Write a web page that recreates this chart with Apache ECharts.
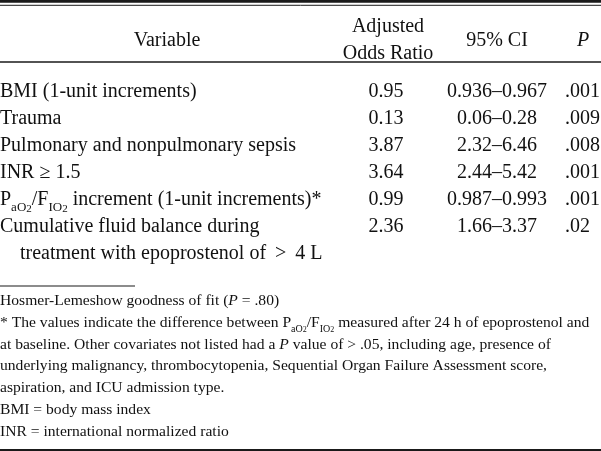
<!DOCTYPE html>
<html><head><meta charset="utf-8">
<script src="https://cdn.jsdelivr.net/npm/echarts@6/dist/echarts.min.js"></script>
<style>html,body{margin:0;padding:0;background:#fff}#c{width:601px;height:451px}</style>
</head><body><div id="c"></div>
<script>
// ---- data ----
const headers = ['Variable', 'Adjusted\nOdds Ratio', '95% CI', 'P'];
const variables = [
  'BMI (1-unit increments)',
  'Trauma',
  'Pulmonary and nonpulmonary sepsis',
  'INR \u2265 1.5',
  '{s|aO}{ss|2}/F{s|IO}{ss|2} increment (1-unit increments)*',
  'Cumulative fluid balance during'
];
const variablePrefix = ['', '', '', '', 'P', ''];
const variableContinuation = ['', '', '', '', '', 'treatment with epoprostenol of \u2009>\u2009 4 L'];
const oddsRatios = ['0.95', '0.13', '3.87', '3.64', '0.99', '2.36'];
const ciLow = ['0.936', '0.06', '2.32', '2.44', '0.987', '1.66'];
const ciHigh = ['0.967', '0.28', '6.46', '5.42', '0.993', '3.37'];
const pValues = ['.001', '.009', '.008', '.001', '.001', '.02'];
const footnotes = [
  'Hosmer-Lemeshow goodness of fit ({i|P} = .80)',
  '* The values indicate the difference between P{s|aO}{ss|2}/F{s|IO}{ss|2} measured after 24 h of epoprostenol and',
  'at baseline. Other covariates not listed had a {i|P} value of > .05, including age, presence of',
  'underlying malignancy, thrombocytopenia, Sequential Organ Failure Assessment score,',
  'aspiration, and ICU admission type.',
  'BMI = body mass index',
  'INR = international normalized ratio'
];

// ---- layout ----
const W = 601, H = 451;
const FONT = '"Liberation Serif", "Times New Roman", serif';
const BODY = 20, FOOT = 15.6;
const colX = [167, 388, 497, 565];
const headerY = [41, 40, 41, 41];
const rowTop = 92, rowGap = 27;
const footTop = 301, footGap = 21.8;
const ink = '#111';

function richFor(size) {
  const L = Math.round(size * 1.45);
  return {
    t: { fontSize: size, fontFamily: FONT, lineHeight: L, verticalAlign: 'middle', color: ink },
    i: { fontSize: size, fontFamily: FONT, fontStyle: 'italic', lineHeight: L, verticalAlign: 'middle', color: ink },
    s: { fontSize: Math.round(size * 0.66), fontFamily: FONT, lineHeight: L - size * 0.7, verticalAlign: 'bottom', color: ink },
    ss: { fontSize: Math.round(size * 0.54), fontFamily: FONT, lineHeight: Math.max(2, L - size * 1.1), verticalAlign: 'bottom', color: ink }
  };
}
// wrap plain runs in {t|...}
function wrapRich(str) {
  const out = [];
  const re = /\{(\w+)\|([^}]*)\}/g;
  let last = 0, m;
  while ((m = re.exec(str))) {
    if (m.index > last) out.push('{t|' + str.slice(last, m.index) + '}');
    out.push(m[0]);
    last = re.lastIndex;
  }
  if (last < str.length) out.push('{t|' + str.slice(last) + '}');
  return out.join('');
}

const els = [];
function txt(text, x, y, size, align, extra) {
  els.push({
    type: 'text',
    style: Object.assign({
      text: text, x: x, y: y, fill: ink,
      font: size + 'px ' + FONT,
      align: align, verticalAlign: 'middle',
      lineHeight: Math.round(size * 1.5)
    }, extra || {})
  });
}
function richTxt(text, x, y, size, align) {
  els.push({
    type: 'text',
    style: {
      text: wrapRich(text), x: x, y: y, fill: ink,
      font: size + 'px ' + FONT, align: align, verticalAlign: 'middle',
      rich: richFor(size)
    }
  });
}
function rule(x1, x2, y, w) {
  els.push({ type: 'line', shape: { x1: x1, y1: y, x2: x2, y2: y }, style: { stroke: '#1a1a1a', lineWidth: w } });
}

// rules
rule(0, W, 1.4, 2.8);
rule(0, W, 5.3, 1);
rule(0, W, 62, 1.4);
rule(0, 135, 286, 1.2);
rule(0, W, 450, 2);

// headers
txt(headers[0], colX[0], headerY[0], BODY, 'center');
els.push({ type: 'text', style: { text: headers[1], x: colX[1], y: headerY[1], fill: ink,
  font: BODY + 'px ' + FONT, align: 'center', verticalAlign: 'middle', lineHeight: 27 } });
txt(headers[2], colX[2], headerY[2], BODY, 'center');
txt(headers[3], 583, headerY[3], BODY, 'center', { font: 'italic ' + BODY + 'px ' + FONT });

// rows
variables.forEach((v, i) => {
  const y = rowTop + i * rowGap;
  richTxt(variablePrefix[i] + v, 0, y, BODY, 'left');
  if (variableContinuation[i]) richTxt(variableContinuation[i], 20, y + rowGap, BODY, 'left');
  txt(oddsRatios[i], colX[1] - 2, y, BODY, 'center');
  txt(ciLow[i] + '\u2013' + ciHigh[i], colX[2], y, BODY, 'center');
  txt(pValues[i], colX[3], y, BODY, 'left');
});

// footnotes
footnotes.forEach((f, i) => {
  richTxt(f, 0, footTop + i * footGap, FOOT, 'left');
});

const chart = echarts.init(document.getElementById('c'), null, { renderer: 'canvas', width: W, height: H });
chart.setOption({ backgroundColor: '#fff', animation: false, graphic: { elements: els } });
</script>
</body></html>
